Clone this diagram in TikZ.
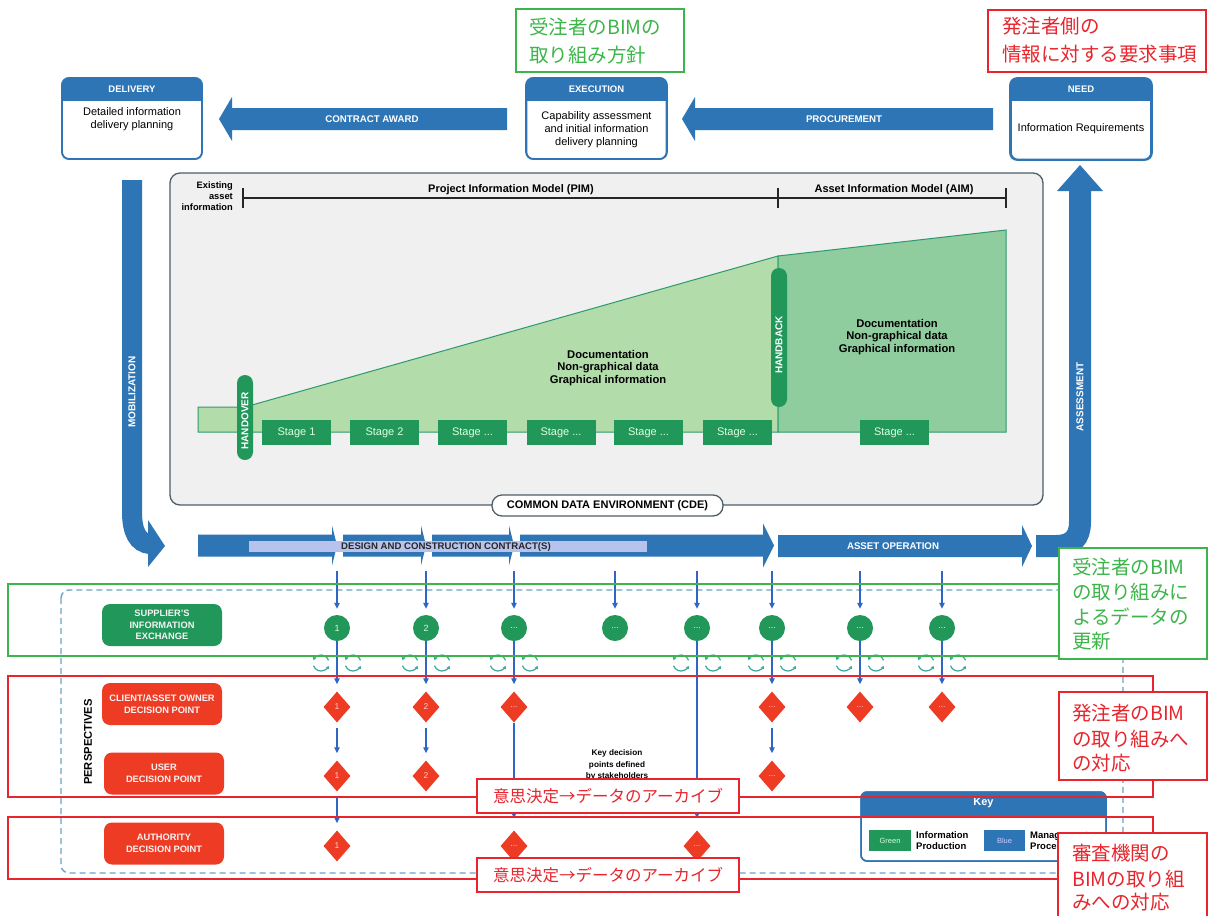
\documentclass[tikz,border=0pt]{standalone}
\usepackage{fontspec}
\setmainfont{Liberation Sans}
\newfontfamily\cjk{Noto Sans CJK JP}
\usetikzlibrary{shapes.geometric,arrows.meta}
\definecolor{mblue}{HTML}{2E75B6}
\definecolor{cblue}{HTML}{2F66C6}
\definecolor{dgreen}{HTML}{21975A}
\definecolor{dred}{HTML}{EE3B24}
\definecolor{agreen}{HTML}{3DB54A}
\definecolor{ared}{HTML}{E8242C}
\definecolor{panel}{HTML}{F0F0F0}
\definecolor{pborder}{HTML}{4F5E66}
\definecolor{pimfill}{HTML}{B2DCAA}
\definecolor{aimfill}{HTML}{8FCC9E}
\definecolor{edge}{HTML}{2C9A6C}
\definecolor{lbar}{HTML}{B7C3EC}
\definecolor{dashc}{HTML}{6AA3C6}
\definecolor{refc}{HTML}{3AA99C}
\newcommand\mydots{...}
% \rarrow{x start}{x tip}{y centre}{head length}{head half height}
\newcommand\rarrow[5]{\fill[mblue] (#1,#3-11) -- (#2-#4,#3-11) -- (#2-#4,#3-#5) -- (#2,#3) -- (#2-#4,#3+#5) -- (#2-#4,#3+11) -- (#1,#3+11) -- cycle;}
\newcommand\myrefresh[2]{%
  \draw[refc,line width=1.2pt,-{Triangle[length=3pt,width=3.5pt]}] (#1,#2) ++(160:8) arc[start angle=160,end angle=20,radius=8];
  \draw[refc,line width=1.2pt,-{Triangle[length=3pt,width=3.5pt]}] (#1,#2) ++(-20:8) arc[start angle=-20,end angle=-160,radius=8];}
\begin{document}
\begin{tikzpicture}[x=1pt,y=-1pt,
  topbox/.style={draw=mblue,line width=1.6pt,rounded corners=7pt,fill=white,minimum width=140pt,minimum height=81pt,inner sep=0pt},
  toptitle/.style={text=white,font=\bfseries\fontsize{9.5}{11}\selectfont},
  topbody/.style={align=center,font=\fontsize{11}{12.8}\selectfont},
  arrlabel/.style={text=white,font=\bfseries\fontsize{9.7}{11}\selectfont},
  stagebox/.style={fill=dgreen,text=white!88!green,minimum width=69pt,minimum height=25pt,inner sep=0pt,font=\fontsize{11}{12}\selectfont},
  pill/.style={fill=dgreen,rounded corners=8pt,minimum width=16pt,inner sep=0pt},
  pilltext/.style={rotate=90,text=white,font=\bfseries\fontsize{10}{11}\selectfont},
  boldtxt/.style={font=\bfseries\fontsize{11.2}{12.6}\selectfont,align=center},
  lab/.style={rounded corners=8pt,minimum width=120pt,minimum height=42pt,inner sep=0pt,text=white!92!gray,font=\bfseries\fontsize{9.3}{11.5}\selectfont,align=center},
  circ/.style={circle,fill=dgreen,minimum size=26pt,inner sep=0pt,text=white!85!green,font=\fontsize{9}{10}\selectfont},
  dia/.style={diamond,fill=dred,minimum width=27pt,minimum height=31pt,inner sep=0pt,text=white!80!red,font=\fontsize{8.5}{9}\selectfont},
  conn/.style={draw=cblue,line width=1.3pt,-{Triangle[length=6pt,width=5.5pt]}},
  anng/.style={draw=agreen,line width=1.2pt},
  annr/.style={draw=ared,line width=1.2pt},
  jg/.style={anchor=west,text=agreen,inner sep=0pt,font=\cjk\fontsize{19.5}{24}\selectfont},
  jr/.style={anchor=west,text=ared,inner sep=0pt,font=\cjk\fontsize{19.5}{24}\selectfont},
  jarch/.style={text=ared,inner sep=0pt,font=\cjk\fontsize{16.5}{20}\selectfont},
]
\useasboundingbox (0,0) rectangle (1208,916);
\fill[white] (0,0) rectangle (1208,916);

% ---------- top boxes ----------
\node[topbox] (deliv) at (132,118.5) {};
\begin{scope}\clip (61,77) rectangle (203,100);
\fill[mblue,rounded corners=7pt] (62,78) rectangle (202,159);\end{scope}
\draw[mblue,line width=1.6pt,rounded corners=7pt] (62,78) rectangle (202,159);
\node[toptitle] (delivT) at (132,89) {DELIVERY};
\node[topbody] (delivB) at (132,119) {Detailed information\\delivery planning};

\node[topbox] (exec) at (596.5,118.5) {};
\begin{scope}\clip (525,77) rectangle (668,100);
\fill[mblue,rounded corners=7pt] (526,78) rectangle (667,159);\end{scope}
\draw[mblue,line width=1.6pt,rounded corners=7pt] (526,78) rectangle (667,159);
\node[toptitle] (execT) at (596.5,89) {EXECUTION};
\node[topbody] (execB) at (596.5,129.5) {Capability assessment\\and initial information\\delivery planning};

\node[topbox] (need) at (1081,119) {};
\begin{scope}\clip (1009,77) rectangle (1153,100);
\fill[mblue,rounded corners=7pt] (1010,78) rectangle (1152,160);\end{scope}
\draw[mblue,line width=1.6pt,rounded corners=7pt] (1010,78) rectangle (1152,160);
\node[toptitle] (needT) at (1081,89) {NEED};
\node[topbody] (needB) at (1081,129) {Information Requirements};

% top arrows (pointing left)
\fill[mblue] (507,108) -- (232,108) -- (232,97) -- (219,119) -- (232,141) -- (232,130) -- (507,130) -- cycle;
\node[arrlabel] (caw) at (372,119) {CONTRACT AWARD};
\fill[mblue] (993,108) -- (695,108) -- (695,97) -- (682,119) -- (695,141) -- (695,130) -- (993,130) -- cycle;
\node[arrlabel] (proc) at (844,119) {PROCUREMENT};

% ---------- side arrows ----------
\draw[mblue,line width=20pt] (132,180) -- (132,512) .. controls (132,532) and (138,543) .. (150,544);
\fill[mblue] (148,520) -- (165,546) -- (148,567) -- cycle;
\node[pilltext] (mob) at (132,392) {MOBILIZATION};

\draw[mblue,line width=22pt] (1036,546) -- (1056,546) .. controls (1072,546) and (1080,538) .. (1080,522) -- (1080,189);
\fill[mblue] (1057,191) -- (1080,165) -- (1103,191) -- cycle;
\node[pilltext] (assess) at (1080,397) {ASSESSMENT};

% ---------- main panel ----------
\draw[fill=panel,draw=pborder,line width=1.3pt,rounded corners=10pt] (170,173) rectangle (1043,505);
\node[anchor=east,align=right,inner sep=0pt,font=\bfseries\fontsize{9.3}{11}\selectfont] (exist) at (233,196) {Existing\\asset\\information};
\draw[line width=1.1pt,black!85] (243,198) -- (1006,198);
\draw[line width=1.1pt,black!85] (243,188) -- (243,208);
\draw[line width=1.1pt,black!85] (778,188) -- (778,208);
\draw[line width=1.1pt,black!85] (1006,188) -- (1006,208);
\node[font=\bfseries\fontsize{11}{12}\selectfont] (pim) at (511,190) {Project Information Model (PIM)};
\node[font=\bfseries\fontsize{11}{12}\selectfont] (aim) at (894,190) {Asset Information Model (AIM)};

\filldraw[fill=pimfill,draw=edge,line width=1pt] (198,407) -- (245,407) -- (778,256) -- (778,432) -- (198,432) -- cycle;
\filldraw[fill=aimfill,draw=edge,line width=1pt] (778,256) -- (1006,230) -- (1006,432) -- (778,432) -- cycle;

\node[boldtxt] (doc1) at (608,368) {Documentation\\Non-graphical data\\Graphical information};
\node[boldtxt] (doc2) at (897,337) {Documentation\\Non-graphical data\\Graphical information};

\node[stagebox] (s1) at (296.5,432.5) {Stage 1};
\node[stagebox] (s2) at (384.5,432.5) {Stage 2};
\node[stagebox] (s3) at (472.5,432.5) {Stage ...};
\node[stagebox] (s4) at (561,432.5) {Stage ...};
\node[stagebox] (s5) at (648.5,432.5) {Stage ...};
\node[stagebox] (s6) at (737.5,432.5) {Stage ...};
\node[stagebox] (s7) at (894.5,432.5) {Stage ...};

\node[pill,minimum height=85pt] (hov) at (245,417.5) {};
\node[pilltext] (hovT) at (245,421) {HANDOVER};
\node[pill,minimum height=139pt] (hback) at (779,337.5) {};
\node[pilltext] (hbackT) at (779,345) {HANDBACK};

\node[draw=pborder,line width=1.3pt,fill=white,rounded corners=10pt,minimum width=231pt,minimum height=21pt,inner sep=0pt,font=\bfseries\fontsize{11}{12}\selectfont] (cde) at (607.5,505.5) {COMMON DATA ENVIRONMENT (CDE)};

% ---------- contract arrows ----------
\rarrow{198}{337}{545.5}{5}{20}
\rarrow{343}{426}{545.5}{5}{20}
\rarrow{432}{514}{545.5}{5}{20}
\rarrow{520}{774}{545.5}{11}{22}
\fill[lbar] (249,541) rectangle (647,552);
\node[anchor=west,inner sep=0pt,font=\bfseries\fontsize{9.6}{11}\selectfont,text=black!85] (dcc) at (341,547) {DESIGN AND CONSTRUCTION CONTRACT(S)};
\rarrow{778}{1032}{546}{10}{21}
\node[arrlabel] (aop) at (893,546) {ASSET OPERATION};

% ---------- perspectives ----------
\draw[dashc,line width=1.4pt,dash pattern=on 6pt off 4pt,rounded corners=8pt] (61,590) rectangle (1123,873);
\node[lab,fill=dgreen] (sup) at (162,625) {SUPPLIER'S\\INFORMATION\\EXCHANGE};
\node[lab,fill=dred] (cli) at (162,704) {CLIENT/ASSET OWNER\\DECISION POINT};
\node[lab,fill=dred] (usr) at (164,773.5) {USER\\DECISION POINT};
\node[lab,fill=dred] (auth) at (164,843.5) {AUTHORITY\\DECISION POINT};
\node[rotate=90,font=\bfseries\fontsize{11.2}{12}\selectfont] (persp) at (88,742) {PERSPECTIVES};

\foreach \i/\x/\t in {1/337/1,2/426/2,3/514/\mydots,4/615/\mydots,5/697/\mydots,6/772/\mydots,7/860/\mydots,8/942/\mydots}{
  \node[circ] (c\i) at (\x,628) {\t};
  \coordinate (t\i) at (\x,571);
  \draw[conn,shorten >=6pt] (t\i) -- (c\i);
}
\foreach \x in {337,426,514,697,772,860,942}{
  \myrefresh{\x-16}{663}
  \myrefresh{\x+16}{663}
}
\node[dia] (d1a) at (337,707) {1};
\node[dia] (d2a) at (426,707) {2};
\node[dia] (d3a) at (514,707) {\mydots};
\node[dia] (d6a) at (772,707) {\mydots};
\node[dia] (d7a) at (860,707) {\mydots};
\node[dia] (d8a) at (942,707) {\mydots};
\node[dia] (d1b) at (337,776) {1};
\node[dia] (d2b) at (426,776) {2};
\node[dia] (d6b) at (772,776) {\mydots};
\node[dia] (d1c) at (337,846) {1};
\node[dia] (d3c) at (514,846) {\mydots};
\node[dia] (d5c) at (697,846) {\mydots};

\foreach \i in {1,2,3,6,7,8}{\draw[conn,shorten >=7pt] (c\i) -- (d\i a);}
\draw[conn,shorten <=5pt,shorten >=7pt] (d1a) -- (d1b);
\draw[conn,shorten <=5pt,shorten >=7pt] (d2a) -- (d2b);
\draw[conn,shorten <=5pt,shorten >=7pt] (d6a) -- (d6b);
\draw[conn,shorten <=5pt,shorten >=7pt] (d1b) -- (d1c);
\draw[conn,shorten >=12pt] (d3a) -- (d3c);
\draw[conn,shorten >=12pt] (c5) -- (d5c);

\node[align=center,font=\bfseries\fontsize{8.2}{11.5}\selectfont] (kd) at (617,765) {Key decision\\points defined\\by stakeholders};

% key
\node[draw=mblue,line width=1.5pt,rounded corners=6pt,fill=white,minimum width=245pt,minimum height=69pt,inner sep=0pt] (key) at (983.5,826.5) {};
\begin{scope}\clip (860,791) rectangle (1107,815);
\fill[mblue,rounded corners=6pt] (861,792) rectangle (1106,861);\end{scope}
\draw[mblue,line width=1.5pt,rounded corners=6pt] (861,792) rectangle (1106,861);
\node[text=white,font=\bfseries\fontsize{11}{12}\selectfont] (keyT) at (983.5,803) {Key};
\node[fill=dgreen,minimum width=42pt,minimum height=21pt,inner sep=0pt,text=white!85!green,font=\fontsize{7.5}{8}\selectfont] (kg) at (890,840.5) {Green};
\node[anchor=west,align=left,inner sep=0pt,font=\bfseries\fontsize{9.5}{11}\selectfont] (kgt) at (916,840.5) {Information\\Production};
\node[fill=mblue,minimum width=41pt,minimum height=21pt,inner sep=0pt,text=white!80!blue,font=\fontsize{7.5}{8}\selectfont] (kb) at (1004.5,840.5) {Blue};
\node[anchor=west,align=left,inner sep=0pt,font=\bfseries\fontsize{9.5}{11}\selectfont] (kbt) at (1030,840.5) {Management\\Process};

% ---------- annotations ----------
\draw[anng] (8,584) rectangle (1059,656);
\draw[annr] (8,676) rectangle (1153,797);
\draw[annr] (8,817) rectangle (1153,879);

\draw[anng,fill=white] (516,9) rectangle (684,72);
\node[jg] (ag1a) at (529,27) {受注者のBIMの};
\node[jg] (ag1b) at (529,55) {取り組み方針};

\draw[annr,fill=white] (988,10) rectangle (1206,72);
\node[jr] (ar1a) at (1002,26) {発注者側の};
\node[jr] (ar1b) at (1002,54) {情報に対する要求事項};

\draw[anng,fill=white] (1059,548) rectangle (1207,659);
\node[jg] (ag2a) at (1072,567) {受注者のBIM};
\node[jg] (ag2b) at (1072,592) {の取り組みに};
\node[jg] (ag2c) at (1072,617) {よるデータの};
\node[jg] (ag2d) at (1072,641) {更新};

\draw[annr,fill=white] (1059,692) rectangle (1207,780);
\node[jr] (ar2a) at (1072,713) {発注者のBIM};
\node[jr] (ar2b) at (1072,739) {の取り組みへ};
\node[jr] (ar2c) at (1072,763) {の対応};

\draw[annr,fill=white] (1058,833) rectangle (1207,925);
\node[jr] (ar3a) at (1072,853) {審査機関の};
\node[jr] (ar3b) at (1072,879) {BIMの取り組};
\node[jr] (ar3c) at (1072,902) {みへの対応};

\draw[annr,fill=white] (477,779) rectangle (739,813);
\node[jarch] (arc1) at (608,796) {意思決定→データのアーカイブ};
\draw[annr,fill=white] (477,858) rectangle (739,892);
\node[jarch] (arc2) at (608,875) {意思決定→データのアーカイブ};
\end{tikzpicture}
\end{document}
